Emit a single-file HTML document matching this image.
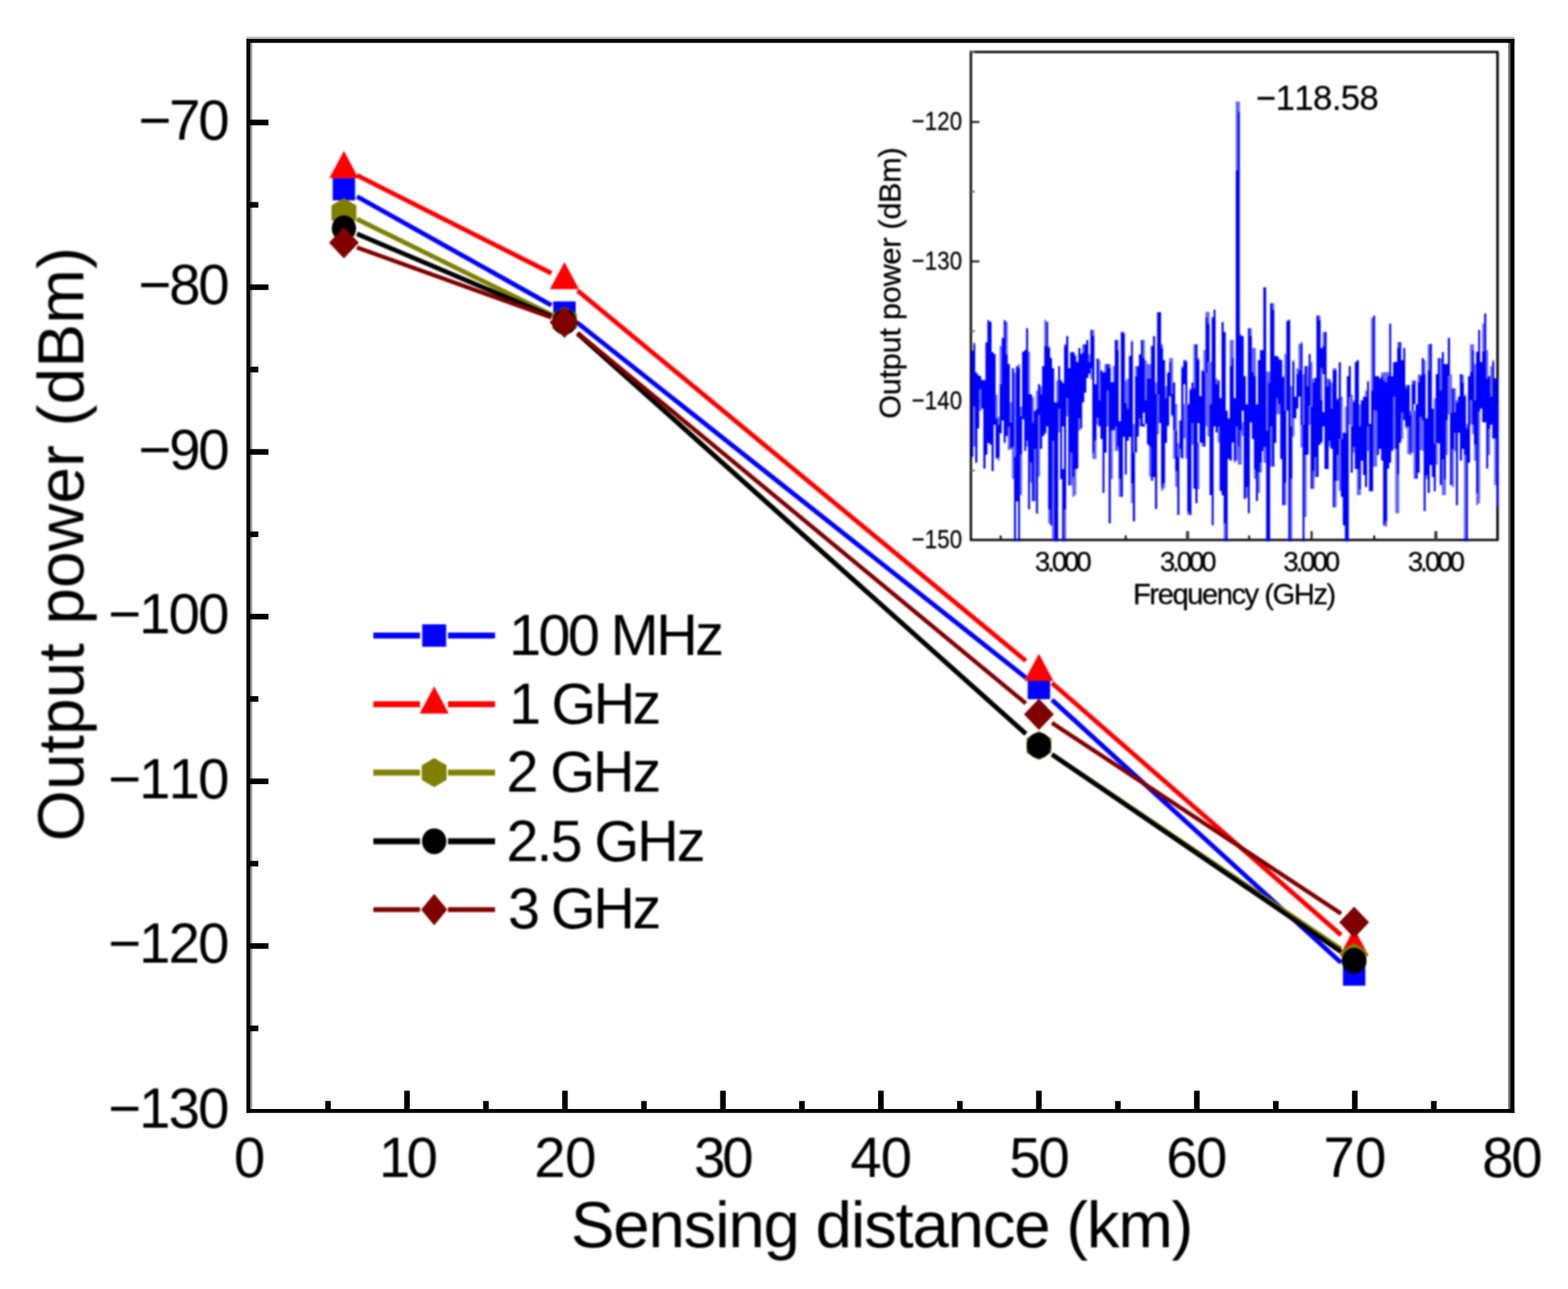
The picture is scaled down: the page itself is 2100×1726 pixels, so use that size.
<!DOCTYPE html>
<html lang="en">
<head>
<meta charset="utf-8">
<title>Output power versus sensing distance</title>
<style>
html,body{margin:0;padding:0;background:#fff;}
body{width:2100px;height:1726px;overflow:hidden;}
svg{display:block;font-family:"Liberation Sans", Arial, Helvetica, sans-serif;}
</style>
</head>
<body>
<svg xmlns="http://www.w3.org/2000/svg" width="2100" height="1726" viewBox="0 0 2100 1726">
<rect x="0" y="0" width="2100" height="1726" fill="#fff"/>
<defs><filter id="soft" filterUnits="userSpaceOnUse" x="0" y="0" width="2100" height="1726" color-interpolation-filters="sRGB"><feGaussianBlur stdDeviation="0.8"/></filter></defs>
<g id="chart" filter="url(#soft)">
<g fill="#000" style="font-kerning:none">
<text x="144.72" y="1509.94" font-size="75.63" letter-spacing="-2.582">−130</text>
<text x="144.72" y="1289.39" font-size="75.63" letter-spacing="-2.582">−120</text>
<text x="144.72" y="1068.84" font-size="75.63" letter-spacing="-2.582">−110</text>
<text x="144.72" y="848.29" font-size="75.63" letter-spacing="-2.582">−100</text>
<text x="185.22" y="627.74" font-size="75.63" letter-spacing="-2.946">−90</text>
<text x="185.22" y="407.19" font-size="75.63" letter-spacing="-2.946">−80</text>
<text x="185.22" y="186.64" font-size="75.63" letter-spacing="-2.946">−70</text>
<text x="313.37" y="1576.24" font-size="75.63" letter-spacing="0.000">0</text>
<text x="507.43" y="1576.24" font-size="75.63" letter-spacing="-4.934">10</text>
<text x="715.42" y="1576.24" font-size="75.63" letter-spacing="-0.825">20</text>
<text x="929.57" y="1576.24" font-size="75.63" letter-spacing="-4.481">30</text>
<text x="1138.81" y="1576.24" font-size="75.63" letter-spacing="-1.315">40</text>
<text x="1351.67" y="1576.24" font-size="75.63" letter-spacing="-2.881">50</text>
<text x="1561.92" y="1576.24" font-size="75.63" letter-spacing="-2.125">60</text>
<text x="1772.52" y="1576.24" font-size="75.63" letter-spacing="0.275">70</text>
<text x="1984.90" y="1576.24" font-size="75.63" letter-spacing="-2.903">80</text>
<text x="764.55" y="1670.36" font-size="87.81" letter-spacing="-1.740">Sensing distance (km)</text>
<text transform="translate(111.54,1126.56) rotate(-90)" font-size="87.91" letter-spacing="0.259">Output power (dBm)</text>
</g>
<line x1="478.10" y1="263.09" x2="738.50" y2="408.81" stroke="#0000ff" stroke-width="6.2"/>
<line x1="773.50" y1="432.44" x2="1373.90" y2="907.36" stroke="#0000ff" stroke-width="6.2"/>
<line x1="1408.90" y1="937.10" x2="1796.10" y2="1289.00" stroke="#0000ff" stroke-width="6.2"/>
<rect x="445.60" y="238.30" width="30.0" height="30.0" fill="#0000ff"/>
<rect x="741.00" y="403.60" width="30.0" height="30.0" fill="#0000ff"/>
<rect x="1376.40" y="906.20" width="30.0" height="30.0" fill="#0000ff"/>
<rect x="1798.60" y="1289.90" width="30.0" height="30.0" fill="#0000ff"/>
<line x1="478.10" y1="234.81" x2="738.50" y2="365.89" stroke="#ff0000" stroke-width="6.2"/>
<line x1="773.50" y1="389.15" x2="1373.90" y2="884.85" stroke="#ff0000" stroke-width="6.2"/>
<line x1="1408.90" y1="914.55" x2="1796.10" y2="1252.05" stroke="#ff0000" stroke-width="6.2"/>
<polygon points="460.60,202.00 480.10,238.50 441.10,238.50" fill="#ff0000"/>
<polygon points="756.00,350.70 775.50,387.20 736.50,387.20" fill="#ff0000"/>
<polygon points="1391.40,875.30 1410.90,911.80 1371.90,911.80" fill="#ff0000"/>
<polygon points="1813.60,1243.30 1833.10,1279.80 1794.10,1279.80" fill="#ff0000"/>
<line x1="478.10" y1="293.40" x2="738.50" y2="421.40" stroke="#808000" stroke-width="6.2"/>
<line x1="773.50" y1="445.65" x2="1373.90" y2="982.65" stroke="#808000" stroke-width="6.2"/>
<line x1="1408.90" y1="1010.08" x2="1796.10" y2="1270.82" stroke="#808000" stroke-width="6.2"/>
<polygon points="460.60,265.30 477.20,275.05 477.20,294.55 460.60,304.30 444.00,294.55 444.00,275.05" fill="#808000"/>
<polygon points="756.00,410.50 772.60,420.25 772.60,439.75 756.00,449.50 739.40,439.75 739.40,420.25" fill="#808000"/>
<polygon points="1391.40,978.80 1408.00,988.55 1408.00,1008.05 1391.40,1017.80 1374.80,1008.05 1374.80,988.55" fill="#808000"/>
<polygon points="1813.60,1263.10 1830.20,1272.85 1830.20,1292.35 1813.60,1302.10 1797.00,1292.35 1797.00,1272.85" fill="#808000"/>
<line x1="478.10" y1="313.22" x2="738.50" y2="423.58" stroke="#000000" stroke-width="6.2"/>
<line x1="773.50" y1="446.62" x2="1373.90" y2="982.68" stroke="#000000" stroke-width="6.2"/>
<line x1="1408.90" y1="1010.24" x2="1796.10" y2="1274.46" stroke="#000000" stroke-width="6.2"/>
<ellipse cx="460.60" cy="305.80" rx="16.3" ry="17.3" fill="#000000"/>
<ellipse cx="756.00" cy="431.00" rx="16.3" ry="17.3" fill="#000000"/>
<ellipse cx="1391.40" cy="998.30" rx="16.3" ry="17.3" fill="#000000"/>
<ellipse cx="1813.60" cy="1286.40" rx="16.3" ry="17.3" fill="#000000"/>
<line x1="478.10" y1="331.30" x2="738.50" y2="425.10" stroke="#800000" stroke-width="5.6"/>
<line x1="773.50" y1="445.86" x2="1373.90" y2="941.94" stroke="#800000" stroke-width="5.6"/>
<line x1="1408.90" y1="967.94" x2="1796.10" y2="1223.36" stroke="#800000" stroke-width="5.6"/>
<polygon points="460.60,304.00 480.60,325.00 460.60,346.00 440.60,325.00" fill="#800000"/>
<polygon points="756.00,410.40 776.00,431.40 756.00,452.40 736.00,431.40" fill="#800000"/>
<polygon points="1391.40,935.40 1411.40,956.40 1391.40,977.40 1371.40,956.40" fill="#800000"/>
<polygon points="1813.60,1213.90 1833.60,1234.90 1813.60,1255.90 1793.60,1234.90" fill="#800000"/>
<line x1="500" y1="851" x2="663" y2="851" stroke="#0000ff" stroke-width="7.8"/>
<rect x="562.5" y="846" width="37.5" height="10" fill="#fff"/>
<rect x="565.50" y="836.00" width="32.0" height="30.0" fill="#0000ff"/>
<line x1="500" y1="943" x2="663" y2="943" stroke="#ff0000" stroke-width="7.8"/>
<rect x="562.5" y="938" width="37.5" height="10" fill="#fff"/>
<polygon points="581.50,919.00 601.00,955.50 562.00,955.50" fill="#ff0000"/>
<line x1="500" y1="1034.5" x2="663" y2="1034.5" stroke="#808000" stroke-width="7.8"/>
<rect x="562.5" y="1029.5" width="37.5" height="10" fill="#fff"/>
<polygon points="581.50,1015.00 598.10,1024.75 598.10,1044.25 581.50,1054.00 564.90,1044.25 564.90,1024.75" fill="#808000"/>
<line x1="500" y1="1126.5" x2="663" y2="1126.5" stroke="#000000" stroke-width="7.8"/>
<rect x="562.5" y="1121.5" width="37.5" height="10" fill="#fff"/>
<ellipse cx="581.50" cy="1126.50" rx="16.3" ry="17.3" fill="#000000"/>
<line x1="500" y1="1218" x2="663" y2="1218" stroke="#800000" stroke-width="6.6"/>
<rect x="562.5" y="1213" width="37.5" height="10" fill="#fff"/>
<polygon points="581.50,1197.00 599.00,1218.00 581.50,1239.00 564.00,1218.00" fill="#800000"/>
<g fill="#000" style="font-kerning:none">
<text x="681.70" y="877.00" font-size="77.30" letter-spacing="-3.573">100 MHz</text>
<text x="681.70" y="968.70" font-size="77.30" letter-spacing="-3.796">1 GHz</text>
<text x="678.34" y="1060.30" font-size="77.30" letter-spacing="-2.954">2 GHz</text>
<text x="678.34" y="1152.80" font-size="77.30" letter-spacing="-2.827">2.5 GHz</text>
<text x="680.31" y="1243.00" font-size="77.30" letter-spacing="-3.447">3 GHz</text>
</g>
<rect x="1300.3" y="69.6" width="705.2" height="653.4" fill="none" stroke="#000" stroke-width="3"/>
<rect x="2007.0" y="69.6" width="2" height="653.4" fill="#d8d8d8"/>
<line x1="1300.3" y1="630.05" x2="1305.6" y2="630.05" stroke="#666" stroke-width="2.2"/>
<line x1="1300.3" y1="536.70" x2="1311.8" y2="536.70" stroke="#1a1a1a" stroke-width="2.6"/>
<line x1="1300.3" y1="443.35" x2="1305.6" y2="443.35" stroke="#666" stroke-width="2.2"/>
<line x1="1300.3" y1="350.00" x2="1311.8" y2="350.00" stroke="#1a1a1a" stroke-width="2.6"/>
<line x1="1300.3" y1="256.65" x2="1305.6" y2="256.65" stroke="#666" stroke-width="2.2"/>
<line x1="1300.3" y1="163.30" x2="1311.8" y2="163.30" stroke="#1a1a1a" stroke-width="2.6"/>
<line x1="1300.3" y1="69.95" x2="1305.6" y2="69.95" stroke="#666" stroke-width="2.2"/>
<line x1="1340.2" y1="717.0" x2="1340.2" y2="723.0" stroke="#111" stroke-width="2.6"/>
<line x1="1423.8" y1="711.2" x2="1423.8" y2="723.0" stroke="#000" stroke-width="1.6"/>
<line x1="1507.7" y1="717.0" x2="1507.7" y2="723.0" stroke="#111" stroke-width="2.6"/>
<line x1="1590.5" y1="711.2" x2="1590.5" y2="723.0" stroke="#3c3c3c" stroke-width="4.2"/>
<line x1="1673.0" y1="717.0" x2="1673.0" y2="723.0" stroke="#111" stroke-width="2.6"/>
<line x1="1756.6" y1="711.2" x2="1756.6" y2="723.0" stroke="#111" stroke-width="2.6"/>
<line x1="1840.5" y1="717.0" x2="1840.5" y2="723.0" stroke="#111" stroke-width="2.6"/>
<line x1="1923.0" y1="711.2" x2="1923.0" y2="723.0" stroke="#3c3c3c" stroke-width="4.2"/>
<path d="M1303.5 458.5H1306.1V460.4H1303.5zM1303.5 544.4H1306.1V598.1H1303.5zM1311.4 521.1H1314.2V550.0H1311.4zM1333.4 528.5H1336.1V560.3H1333.4zM1336.1 558.4H1338.8V568.7H1336.1zM1336.1 612.1H1338.8V616.7H1336.1zM1338.8 463.2H1341.6V514.5H1338.8zM1346.9 431.0H1349.7V474.4H1346.9zM1349.7 571.0H1352.5V602.7H1349.7zM1352.5 538.8H1355.3V565.9H1352.5zM1355.3 598.1H1358.1V641.0H1355.3zM1358.1 498.7H1360.7V612.1H1358.1zM1363.5 487.5H1366.1V493.1H1363.5zM1366.1 544.4H1368.9V557.5H1366.1zM1366.1 608.8H1368.9V662.9H1366.1zM1374.3 589.7H1376.9V598.1H1374.3zM1376.9 471.1H1379.5V528.1H1376.9zM1379.5 619.5H1382.1V646.6H1379.5zM1382.1 531.3H1384.9V565.9H1382.1zM1384.9 600.9H1387.5V670.9H1384.9zM1387.5 522.9H1390.2V547.2H1387.5zM1390.2 555.6H1393.0V638.2H1390.2zM1393.0 517.3H1395.7V528.1H1393.0zM1398.5 428.2H1401.3V463.2H1398.5zM1403.8 463.7H1406.4V466.0H1403.8zM1403.8 682.1H1406.4V700.7H1403.8zM1409.0 590.6H1411.8V724.1H1409.0zM1414.6 509.4H1417.2V538.8H1414.6zM1417.2 547.2H1419.8V578.9H1417.2zM1425.1 460.9H1427.9V463.2H1425.1zM1425.1 682.1H1427.9V724.9H1425.1zM1427.9 533.2H1430.7V557.5H1427.9zM1433.3 606.5H1436.1V650.3H1433.3zM1436.1 638.7H1438.9V665.3H1436.1zM1438.9 474.4H1441.4V476.7H1438.9zM1438.9 627.9H1441.4V662.9H1438.9zM1444.2 560.3H1447.0V576.6H1444.2zM1449.3 460.9H1452.1V471.6H1449.3zM1457.7 474.4H1460.4V484.7H1457.7zM1460.4 493.1H1462.9V508.0H1460.4zM1462.9 441.7H1465.7V450.1H1462.9zM1462.9 606.5H1465.7V614.4H1462.9zM1465.7 589.7H1468.5V614.4H1465.7zM1468.5 559.3H1471.3V568.7H1468.5zM1471.3 481.9H1473.8V536.0H1471.3zM1479.2 487.5H1482.0V497.7H1479.2zM1482.0 522.9H1484.8V571.0H1482.0zM1484.8 487.5H1487.6V493.1H1484.8zM1487.6 576.6H1490.4V641.5H1487.6zM1490.4 490.3H1493.0V511.7H1490.4zM1493.0 571.0H1496.0V603.7H1493.0zM1496.0 455.3H1498.3V468.8H1496.0zM1496.0 598.1H1498.3V603.7H1496.0zM1498.3 641.0H1501.1V665.3H1498.3zM1503.9 444.5H1506.5V446.9H1503.9zM1506.5 509.4H1509.1V539.7H1506.5zM1509.1 507.1H1511.9V547.2H1509.1zM1514.7 455.7H1517.3V458.1H1514.7zM1514.7 647.1H1517.3V673.7H1514.7zM1517.3 567.7H1520.1V606.5H1517.3zM1520.1 490.3H1522.7V503.8H1520.1zM1525.3 560.0H1528.0V571.2H1525.3zM1530.7 455.3H1533.3V479.5H1530.7zM1533.3 482.8H1536.1V536.0H1533.3zM1536.1 487.5H1538.9V507.1H1536.1zM1538.9 487.5H1541.5V507.1H1538.9zM1538.9 598.1H1541.5V638.2H1538.9zM1546.9 511.7H1549.7V527.6H1546.9zM1549.7 528.3H1552.3V581.5H1549.7zM1555.0 460.9H1557.6V466.0H1555.0zM1555.0 652.2H1557.6V657.3H1555.0zM1557.6 647.1H1560.4V654.5H1557.6zM1560.4 517.3H1563.0V533.2H1560.4zM1563.0 569.3H1565.8V571.2H1563.0zM1565.8 479.5H1568.4V484.7H1565.8zM1568.4 479.5H1571.1V527.3H1568.4zM1568.4 555.3H1571.1V557.5H1568.4zM1571.1 575.7H1573.9V614.4H1571.1zM1573.9 540.7H1576.7V576.6H1573.9zM1573.9 630.7H1576.7V652.2H1573.9zM1576.7 593.4H1579.5V612.1H1576.7zM1579.5 600.9H1582.1V612.1H1579.5zM1582.1 490.3H1584.9V493.1H1582.1zM1584.9 541.3H1587.5V587.1H1584.9zM1587.5 482.3H1590.1V484.7H1587.5zM1587.5 541.3H1590.1V613.9H1587.5zM1590.1 684.9H1592.9V689.5H1590.1zM1592.9 520.1H1595.7V522.9H1592.9zM1595.7 566.5H1598.3V595.3H1595.7zM1598.3 460.9H1601.0V520.1H1598.3zM1603.8 479.5H1606.4V482.3H1603.8zM1603.8 592.5H1606.4V655.0H1603.8zM1609.1 592.9H1611.7V598.1H1609.1zM1611.7 468.8H1614.5V498.2H1611.7zM1614.5 417.5H1617.1V424.9H1614.5zM1614.5 498.7H1617.1V571.0H1614.5zM1617.1 417.5H1619.9V433.3H1617.1zM1617.1 484.7H1619.9V584.5H1617.1zM1619.9 484.7H1622.8V541.3H1619.9zM1622.8 424.0H1625.4V425.4H1622.8zM1625.4 414.2H1628.0V414.7H1625.4zM1628.0 507.1H1630.8V514.5H1628.0zM1630.8 571.0H1633.4V592.5H1630.8zM1636.0 431.0H1638.8V431.5H1636.0zM1638.8 700.7H1641.6V724.9H1638.8zM1647.0 455.3H1649.8V490.3H1647.0zM1649.8 455.3H1652.4V479.5H1649.8zM1652.4 616.7H1655.0V619.5H1652.4zM1655.0 136.0H1657.8V228.0H1655.0zM1655.0 571.0H1657.8V616.7H1655.0zM1657.8 136.0H1660.5V149.5H1657.8zM1657.8 598.1H1660.5V622.3H1657.8zM1660.5 447.3H1663.1V450.1H1660.5zM1660.5 576.6H1663.1V622.3H1660.5zM1663.1 565.6H1665.7V583.6H1663.1zM1668.5 652.2H1671.3V666.2H1668.5zM1673.9 439.4H1676.6V450.1H1673.9zM1676.6 466.0H1679.4V498.2H1676.6zM1679.4 466.0H1682.0V503.8H1679.4zM1679.4 627.9H1682.0V641.0H1679.4zM1684.7 632.6H1687.5V660.1H1684.7zM1687.5 619.5H1690.1V632.6H1687.5zM1692.0 598.1H1695.7V619.5H1692.0zM1695.7 497.7H1698.3V576.6H1695.7zM1698.3 497.7H1701.1V512.2H1698.3zM1701.1 571.0H1703.9V624.7H1701.1zM1703.9 406.0H1706.7V414.7H1703.9zM1709.4 532.9H1712.0V554.4H1709.4zM1712.0 479.5H1714.6V481.9H1712.0zM1712.0 541.3H1714.6V554.4H1712.0zM1717.2 503.8H1720.0V506.1H1717.2zM1720.0 473.9H1722.8V550.0H1720.0zM1720.0 646.6H1722.8V676.5H1720.0zM1722.8 428.7H1725.4V431.0H1722.8zM1728.0 517.3H1730.8V571.0H1728.0zM1728.0 641.0H1730.8V724.9H1728.0zM1730.8 482.3H1733.6V484.7H1730.8zM1730.8 560.0H1733.6V584.5H1730.8zM1736.2 493.1H1738.9V501.0H1736.2zM1738.9 460.4H1741.7V495.4H1738.9zM1741.7 458.1H1744.5V460.4H1741.7zM1741.7 569.3H1744.5V599.0H1741.7zM1744.5 501.0H1747.1V568.7H1744.5zM1747.1 609.3H1749.9V692.3H1747.1zM1749.9 490.3H1752.7V517.3H1749.9zM1752.7 543.2H1755.3V568.7H1752.7zM1755.3 484.7H1757.9V544.4H1755.3zM1757.9 507.1H1760.6V512.2H1757.9zM1757.9 630.7H1760.6V654.5H1757.9zM1760.6 612.1H1763.1V638.7H1760.6zM1765.9 422.6H1768.7V428.7H1765.9zM1768.7 493.1H1771.3V536.0H1768.7zM1771.3 444.5H1773.9V463.2H1771.3zM1776.7 507.1H1779.4V517.3H1776.7zM1779.4 507.1H1782.1V509.4H1779.4zM1779.4 590.1H1782.1V598.1H1779.4zM1782.1 512.2H1784.9V547.2H1782.1zM1784.9 493.1H1787.5V495.9H1784.9zM1787.5 493.1H1790.2V495.9H1787.5zM1787.5 643.8H1790.2V679.3H1787.5zM1790.2 533.2H1793.0V536.0H1790.2zM1790.2 609.3H1793.0V643.8H1790.2zM1793.0 587.8H1795.8V657.3H1793.0zM1795.8 531.3H1798.4V587.8H1795.8zM1801.2 544.4H1803.8V579.4H1801.2zM1806.4 531.3H1809.1V568.4H1806.4zM1809.1 528.5H1811.8V571.0H1809.1zM1811.8 536.0H1814.5V538.8H1811.8zM1811.8 598.1H1814.5V606.5H1811.8zM1817.1 627.9H1819.9V662.9H1817.1zM1819.9 541.6H1822.7V571.0H1819.9zM1819.9 655.0H1822.7V662.9H1819.9zM1828.1 522.9H1830.9V531.3H1828.1zM1830.9 509.4H1833.5V511.7H1830.9zM1830.9 571.0H1833.5V603.7H1830.9zM1836.2 425.4H1839.0V522.9H1836.2zM1839.0 549.7H1841.6V625.1H1839.0zM1841.6 549.7H1844.3V625.1H1841.6zM1849.7 498.7H1852.4V503.3H1849.7zM1852.4 498.2H1855.2V509.4H1852.4zM1855.2 498.2H1857.8V511.7H1855.2zM1855.2 697.9H1857.8V705.4H1855.2zM1857.8 498.2H1860.6V503.8H1857.8zM1865.8 530.9H1868.6V600.9H1865.8zM1868.6 600.9H1871.2V687.2H1868.6zM1871.2 458.1H1874.0V466.0H1871.2zM1871.2 635.4H1874.0V687.2H1871.2zM1876.6 552.5H1879.4V587.8H1876.6zM1882.0 515.5H1884.7V520.1H1882.0zM1882.0 571.0H1884.7V573.8H1882.0zM1884.7 571.0H1888.0V608.3H1884.7zM1888.0 550.0H1890.6V555.6H1888.0zM1888.0 606.0H1890.6V609.3H1888.0zM1890.6 509.4H1893.2V514.5H1890.6zM1890.6 549.7H1893.2V606.0H1890.6zM1893.2 549.7H1895.9V641.0H1893.2zM1898.7 501.5H1901.3V511.7H1898.7zM1901.3 501.5H1904.1V503.8H1901.3zM1901.3 558.1H1904.1V602.7H1901.3zM1904.1 562.8H1906.7V603.7H1904.1zM1906.7 481.9H1909.3V501.0H1906.7zM1909.3 636.3H1912.1V641.5H1909.3zM1912.1 460.9H1914.9V495.9H1912.1zM1920.3 533.2H1922.9V593.4H1920.3zM1922.9 593.4H1925.6V622.3H1922.9zM1928.3 479.5H1931.1V522.9H1928.3zM1931.1 614.9H1933.7V662.9H1931.1zM1933.7 641.9H1936.5V662.9H1933.7zM1936.5 562.8H1939.1V609.3H1936.5zM1939.1 503.3H1941.9V554.4H1939.1zM1941.9 501.5H1944.6V552.8H1941.9zM1944.6 600.9H1947.3V652.2H1944.6zM1947.3 520.1H1949.9V552.3H1947.3zM1947.3 579.4H1949.9V603.7H1947.3zM1949.9 536.0H1952.6V538.8H1949.9zM1958.0 501.5H1960.6V512.2H1958.0zM1960.6 528.5H1963.4V530.9H1960.6zM1960.6 609.3H1963.4V724.9H1960.6zM1963.4 567.7H1966.0V573.8H1963.4zM1968.8 460.9H1971.5V497.7H1968.8zM1968.8 535.7H1971.5V568.4H1968.8zM1971.5 460.9H1974.1V468.8H1971.5zM1971.5 568.4H1974.1V581.3H1971.5zM1974.1 487.5H1976.9V536.0H1974.1zM1974.1 595.3H1976.9V616.7H1974.1zM1976.9 660.6H1979.7V676.5H1976.9zM1979.7 551.6H1982.3V673.7H1979.7zM1985.1 433.3H1987.7V471.1H1985.1zM1990.5 468.8H1993.1V506.6H1990.5zM1993.1 574.0H1995.8V609.3H1993.1zM1995.8 490.3H1998.6V530.9H1995.8zM1998.6 481.9H2001.2V484.7H1998.6zM2001.2 587.3H2004.0V649.4H2001.2zM2004.0 507.1H2007.0V539.7H2004.0z" fill="#0000ff" fill-opacity="0.6"/>
<path d="M1300.9 469.7H1303.5V611.6H1300.9zM1303.5 460.4H1306.1V544.4H1303.5zM1306.1 498.7H1308.9V619.5H1306.1zM1308.9 501.9H1311.4V573.8H1308.9zM1311.4 503.8H1314.2V521.1H1311.4zM1314.2 508.9H1317.0V547.2H1314.2zM1317.0 508.9H1319.8V627.5H1317.0zM1319.8 458.5H1322.4V608.8H1319.8zM1322.4 428.7H1325.2V592.9H1322.4zM1325.2 431.0H1328.0V595.3H1325.2zM1328.0 471.6H1330.8V630.7H1328.0zM1330.8 473.9H1333.4V568.7H1330.8zM1333.4 560.3H1336.1V613.9H1333.4zM1336.1 568.7H1338.8V612.1H1336.1zM1338.8 514.5H1341.6V580.3H1338.8zM1341.6 452.5H1344.3V563.1H1341.6zM1344.3 428.7H1346.9V592.9H1344.3zM1346.9 474.4H1349.7V584.1H1346.9zM1349.7 487.5H1352.5V571.0H1349.7zM1352.5 565.9H1355.3V600.9H1352.5zM1355.3 493.1H1358.1V598.1H1355.3zM1358.1 612.1H1360.7V724.9H1358.1zM1360.7 490.3H1363.5V671.3H1360.7zM1363.5 493.1H1366.1V724.9H1363.5zM1366.1 557.5H1368.9V608.8H1366.1zM1368.9 471.1H1371.7V561.2H1368.9zM1371.7 468.8H1374.3V603.7H1371.7zM1374.3 439.4H1376.9V589.7H1374.3zM1376.9 528.1H1379.5V682.1H1376.9zM1379.5 528.1H1382.1V619.5H1379.5zM1382.1 565.9H1384.9V670.9H1382.1zM1384.9 550.0H1387.5V600.9H1384.9zM1387.5 547.2H1390.2V687.7H1387.5zM1390.2 514.5H1393.0V555.6H1390.2zM1393.0 528.1H1395.7V600.9H1393.0zM1395.7 490.3H1398.5V584.1H1395.7zM1398.5 463.2H1401.3V580.3H1398.5zM1401.3 431.0H1403.8V571.0H1401.3zM1403.8 466.0H1406.4V682.1H1403.8zM1406.4 479.5H1409.0V703.5H1406.4zM1409.0 493.1H1411.8V590.6H1409.0zM1411.8 538.8H1414.6V724.9H1411.8zM1414.6 538.8H1417.2V724.9H1414.6zM1417.2 490.3H1419.8V547.2H1417.2zM1419.8 509.4H1422.5V641.5H1419.8zM1422.5 512.7H1425.1V571.0H1422.5zM1422.5 627.9H1425.1V724.9H1422.5zM1425.1 463.2H1427.9V682.1H1425.1zM1427.9 450.1H1430.7V533.2H1427.9zM1430.7 493.1H1433.3V649.9H1430.7zM1433.3 471.6H1436.1V606.5H1433.3zM1436.1 471.6H1438.9V638.7H1436.1zM1438.9 476.7H1441.4V627.9H1438.9zM1441.4 484.7H1444.2V627.5H1441.4zM1444.2 466.0H1447.0V560.3H1444.2zM1447.0 473.9H1449.3V573.8H1447.0zM1449.3 471.6H1452.1V538.8H1449.3zM1452.1 460.9H1454.9V525.7H1452.1zM1454.9 455.3H1457.7V506.1H1454.9zM1457.7 484.7H1460.4V500.5H1457.7zM1460.4 441.7H1462.9V493.1H1460.4zM1462.9 450.1H1465.7V606.5H1462.9zM1465.7 514.5H1468.5V589.7H1465.7zM1468.5 480.0H1471.3V559.3H1468.5zM1471.3 536.0H1473.8V571.0H1471.3zM1473.8 495.9H1476.6V587.8H1473.8zM1476.6 498.7H1479.2V660.1H1476.6zM1479.2 497.7H1482.0V606.0H1479.2zM1482.0 487.5H1484.8V522.9H1482.0zM1484.8 493.1H1487.6V700.7H1484.8zM1487.6 511.7H1490.4V576.6H1487.6zM1490.4 511.7H1493.0V576.1H1490.4zM1493.0 455.3H1496.0V571.0H1493.0zM1496.0 468.8H1498.3V598.1H1496.0zM1498.3 564.0H1501.1V641.0H1498.3zM1501.1 444.5H1503.9V665.3H1501.1zM1503.9 446.9H1506.5V585.0H1503.9zM1506.5 539.7H1509.1V635.4H1506.5zM1509.1 547.2H1511.9V590.1H1509.1zM1511.9 476.7H1514.7V585.0H1511.9zM1514.7 458.1H1517.3V647.1H1514.7zM1517.3 606.5H1520.1V697.9H1517.3zM1520.1 503.8H1522.7V606.0H1520.1zM1522.7 490.3H1525.3V584.5H1522.7zM1525.3 474.4H1528.0V560.0H1525.3zM1528.0 455.3H1530.7V570.7H1528.0zM1530.7 479.5H1533.3V552.5H1530.7zM1530.7 567.5H1533.3V571.5H1530.7zM1533.3 536.0H1536.1V567.5H1533.3zM1536.1 507.1H1538.9V595.3H1536.1zM1538.9 507.1H1541.5V598.1H1538.9zM1541.5 463.2H1544.2V643.8H1541.5zM1544.2 450.1H1546.9V638.7H1544.2zM1546.9 527.6H1549.7V681.6H1546.9zM1549.7 417.9H1552.3V528.3H1549.7zM1552.3 417.9H1555.0V566.5H1552.3zM1555.0 466.0H1557.6V652.2H1555.0zM1557.6 482.3H1560.4V647.1H1557.6zM1560.4 533.2H1563.0V592.9H1560.4zM1563.0 498.7H1565.8V569.3H1563.0zM1565.8 484.7H1568.4V530.4H1565.8zM1568.4 527.3H1571.1V555.3H1568.4zM1571.1 512.2H1573.9V575.7H1571.1zM1573.9 576.6H1576.7V630.7H1573.9zM1576.7 612.1H1579.5V689.5H1576.7zM1579.5 563.1H1582.1V600.9H1579.5zM1582.1 493.1H1584.9V613.9H1582.1zM1584.9 482.3H1587.5V514.5H1584.9zM1587.5 484.7H1590.1V541.3H1587.5zM1590.1 541.3H1592.9V684.9H1590.1zM1592.9 522.9H1595.7V689.5H1592.9zM1595.7 512.2H1598.3V566.5H1595.7zM1598.3 520.1H1601.0V654.5H1598.3zM1601.0 460.9H1603.8V673.7H1601.0zM1603.8 482.3H1606.4V566.5H1603.8zM1606.4 530.4H1609.1V592.5H1606.4zM1609.1 495.9H1611.7V592.9H1609.1zM1611.7 498.2H1614.5V598.1H1611.7zM1614.5 424.9H1617.1V498.7H1614.5zM1617.1 433.3H1619.9V484.7H1617.1zM1619.9 541.3H1622.8V662.9H1619.9zM1622.8 425.4H1625.4V703.5H1622.8zM1625.4 414.7H1628.0V571.0H1625.4zM1628.0 514.5H1630.8V578.9H1628.0zM1630.8 509.4H1633.4V571.0H1630.8zM1633.4 533.2H1636.0V657.3H1633.4zM1636.0 431.5H1638.8V662.9H1636.0zM1638.8 444.5H1641.6V700.7H1638.8zM1641.6 550.0H1644.2V724.9H1641.6zM1644.2 560.3H1647.0V614.4H1644.2zM1647.0 490.3H1649.8V616.7H1647.0zM1649.8 479.5H1652.4V592.5H1649.8zM1652.4 533.2H1655.0V616.7H1652.4zM1655.0 228.0H1657.8V571.0H1655.0zM1657.8 149.5H1660.5V598.1H1657.8zM1660.5 450.1H1663.1V576.6H1660.5zM1663.1 450.1H1665.7V549.7H1663.1zM1665.7 503.8H1668.5V668.1H1665.7zM1668.5 541.6H1671.3V652.2H1668.5zM1671.3 439.4H1673.9V687.2H1671.3zM1673.9 450.1H1676.6V565.6H1673.9zM1676.6 498.2H1679.4V587.8H1676.6zM1679.4 503.8H1682.0V627.9H1679.4zM1682.0 541.6H1684.7V670.9H1682.0zM1684.7 482.3H1687.5V632.6H1684.7zM1687.5 468.8H1690.1V619.5H1687.5zM1690.1 468.8H1692.0V603.7H1690.1zM1692.0 384.8H1695.7V598.1H1692.0zM1695.7 576.6H1698.3V724.9H1695.7zM1698.3 512.2H1701.1V724.9H1698.3zM1701.1 406.0H1703.9V571.0H1701.1zM1703.9 414.7H1706.7V624.7H1703.9zM1706.7 476.7H1709.4V592.9H1706.7zM1709.4 476.7H1712.0V532.9H1709.4zM1712.0 481.9H1714.6V541.3H1712.0zM1714.6 481.9H1717.2V614.4H1714.6zM1717.2 506.1H1720.0V676.5H1717.2zM1720.0 550.0H1722.8V646.6H1720.0zM1722.8 431.0H1725.4V549.7H1722.8zM1725.4 428.2H1728.0V724.9H1725.4zM1728.0 571.0H1730.8V641.0H1728.0zM1730.8 484.7H1733.6V560.0H1730.8zM1733.6 531.3H1736.2V560.0H1733.6zM1736.2 501.0H1738.9V546.9H1736.2zM1738.9 495.4H1741.7V531.1H1738.9zM1741.7 460.4H1744.5V569.3H1741.7zM1744.5 568.7H1747.1V724.9H1744.5zM1747.1 490.3H1749.9V609.3H1747.1zM1749.9 517.3H1752.7V608.8H1749.9zM1752.7 473.9H1755.3V543.2H1752.7zM1755.3 544.4H1757.9V654.5H1755.3zM1757.9 512.2H1760.6V630.7H1757.9zM1760.6 506.1H1763.1V612.1H1760.6zM1763.1 422.6H1765.9V638.7H1763.1zM1765.9 428.7H1768.7V595.7H1765.9zM1768.7 466.0H1771.3V493.1H1768.7zM1768.7 536.0H1771.3V592.5H1768.7zM1771.3 463.2H1773.9V501.0H1771.3zM1771.3 551.9H1773.9V571.0H1771.3zM1773.9 444.5H1776.7V627.9H1773.9zM1776.7 517.3H1779.4V627.9H1776.7zM1779.4 509.4H1782.1V590.1H1779.4zM1782.1 547.2H1784.9V600.9H1782.1zM1784.9 495.9H1787.5V679.3H1784.9zM1787.5 495.9H1790.2V643.8H1787.5zM1790.2 536.0H1793.0V609.3H1790.2zM1793.0 485.1H1795.8V587.8H1793.0zM1795.8 587.8H1798.4V665.3H1795.8zM1798.4 579.4H1801.2V703.5H1798.4zM1801.2 579.4H1803.8V724.9H1801.2zM1803.8 503.8H1806.4V724.9H1803.8zM1806.4 490.3H1809.1V531.3H1806.4zM1809.1 571.0H1811.8V633.1H1809.1zM1811.8 538.8H1814.5V598.1H1811.8zM1814.5 484.7H1817.1V627.9H1814.5zM1817.1 482.3H1819.9V627.9H1817.1zM1819.9 571.0H1822.7V655.0H1819.9zM1822.7 536.0H1825.5V616.7H1822.7zM1825.5 531.3H1828.1V635.9H1825.5zM1828.1 531.3H1830.9V652.2H1828.1zM1830.9 511.7H1833.5V571.0H1830.9zM1833.5 567.7H1836.2V657.8H1833.5zM1836.2 522.9H1839.0V657.8H1836.2zM1839.0 422.6H1841.6V549.7H1839.0zM1841.6 503.8H1844.3V549.7H1841.6zM1844.3 503.8H1846.9V609.3H1844.3zM1846.9 506.6H1849.7V600.9H1846.9zM1849.7 503.3H1852.4V616.7H1849.7zM1852.4 509.4H1855.2V703.5H1852.4zM1855.2 511.7H1857.8V697.9H1855.2zM1857.8 503.8H1860.6V627.5H1857.8zM1860.6 433.3H1863.2V619.5H1860.6zM1863.2 503.8H1865.8V603.7H1863.2zM1865.8 484.7H1868.6V530.9H1865.8zM1868.6 484.7H1871.2V600.9H1868.6zM1871.2 466.0H1874.0V635.4H1871.2zM1874.0 458.1H1876.6V592.9H1874.0zM1876.6 482.3H1879.4V552.5H1876.6zM1879.4 466.0H1882.0V562.8H1879.4zM1882.0 520.1H1884.7V571.0H1882.0zM1884.7 515.5H1888.0V571.0H1884.7zM1888.0 555.6H1890.6V606.0H1888.0zM1890.6 514.5H1893.2V549.7H1890.6zM1893.2 509.4H1895.9V541.3H1893.2zM1895.9 541.6H1898.7V641.0H1895.9zM1898.7 511.7H1901.3V633.1H1898.7zM1901.3 503.8H1904.1V558.1H1901.3zM1904.1 479.5H1906.7V562.8H1904.1zM1906.7 501.0H1909.3V684.4H1906.7zM1909.3 560.3H1912.1V636.3H1909.3zM1912.1 495.9H1914.9V660.1H1912.1zM1914.9 460.4H1917.7V622.8H1914.9zM1917.7 547.2H1920.3V638.7H1917.7zM1920.3 593.4H1922.9V657.8H1920.3zM1922.9 501.0H1925.6V593.4H1922.9zM1925.6 479.5H1928.3V593.4H1925.6zM1928.3 522.9H1931.1V649.4H1928.3zM1931.1 471.6H1933.7V614.9H1931.1zM1933.7 487.5H1936.5V641.9H1933.7zM1936.5 487.5H1939.1V562.8H1936.5zM1939.1 452.5H1941.9V503.3H1939.1zM1941.9 552.8H1944.6V649.4H1941.9zM1944.6 520.1H1947.3V600.9H1944.6zM1947.3 552.3H1949.9V579.4H1947.3zM1949.9 538.8H1952.6V676.5H1949.9zM1952.6 530.9H1955.2V579.4H1952.6zM1955.2 501.0H1958.0V616.7H1955.2zM1958.0 512.2H1960.6V600.9H1958.0zM1960.6 530.9H1963.4V609.3H1960.6zM1963.4 573.8H1966.0V724.9H1963.4zM1966.0 503.8H1968.8V619.5H1966.0zM1968.8 497.7H1971.5V535.7H1968.8zM1971.5 468.8H1974.1V568.4H1971.5zM1974.1 536.0H1976.9V595.3H1974.1zM1976.9 471.1H1979.7V660.6H1976.9zM1979.7 441.7H1982.3V551.6H1979.7zM1982.3 484.7H1985.1V546.9H1982.3zM1985.1 471.1H1987.7V565.6H1985.1zM1987.7 419.8H1990.5V565.6H1987.7zM1990.5 506.6H1993.1V627.5H1990.5zM1993.1 503.8H1995.8V574.0H1993.1zM1995.8 530.9H1998.6V568.4H1995.8zM1998.6 484.7H2001.2V587.3H1998.6zM2001.2 506.6H2004.0V587.3H2001.2zM2004.0 539.7H2007.0V679.3H2004.0z" fill="#0000ff"/>
<g fill="#000" style="font-kerning:none">
<text transform="translate(1220.82,174.15) scale(0.85,1)" font-size="34.93" letter-spacing="0.283" stroke="#000" stroke-width="0.35">−120</text>
<text transform="translate(1220.82,360.85) scale(0.85,1)" font-size="34.93" letter-spacing="0.283" stroke="#000" stroke-width="0.35">−130</text>
<text transform="translate(1220.82,547.55) scale(0.85,1)" font-size="34.93" letter-spacing="0.283" stroke="#000" stroke-width="0.35">−140</text>
<text transform="translate(1220.82,734.25) scale(0.85,1)" font-size="34.93" letter-spacing="0.283" stroke="#000" stroke-width="0.35">−150</text>
<text x="1386.12" y="765.33" font-size="36.90" letter-spacing="-4.096" stroke="#000" stroke-width="0.35">3.000</text>
<text x="1553.42" y="765.33" font-size="36.90" letter-spacing="-4.096" stroke="#000" stroke-width="0.35">3.000</text>
<text x="1718.72" y="765.33" font-size="36.90" letter-spacing="-4.096" stroke="#000" stroke-width="0.35">3.000</text>
<text x="1885.52" y="765.33" font-size="36.90" letter-spacing="-3.946" stroke="#000" stroke-width="0.35">3.000</text>
<text x="1517.47" y="808.58" font-size="39.14" letter-spacing="-1.997" stroke="#000" stroke-width="0.35">Frequency (GHz)</text>
<text transform="translate(1205.90,560.74) rotate(-90)" font-size="40.96" letter-spacing="-0.304" stroke="#000" stroke-width="0.35">Output power (dBm)</text>
<text x="1682.08" y="146.54" font-size="46.34" letter-spacing="-0.700" stroke="#000" stroke-width="0.3">−118.58</text>
</g>
</g>
<g id="frame">
<g shape-rendering="crispEdges">
<rect x="330.0" y="49.300000000000004" width="1698.3" height="2.8" fill="#bdbdbd"/>
<rect x="335.2" y="57.4" width="2.8" height="1427.6" fill="#a6a6a6"/>
<rect x="2020.0" y="57.4" width="2.9" height="1427.6" fill="#6e6e6e"/>
</g>
<rect x="330.0" y="52.1" width="5.199999999999989" height="1438.1000000000001" fill="#000"/>
<rect x="2022.9" y="52.1" width="5.399999999999864" height="1438.1000000000001" fill="#000"/>
<rect x="330.0" y="52.1" width="1698.3" height="5.299999999999997" fill="#000"/>
<rect x="330.0" y="1485.0" width="1698.3" height="5.2000000000000455" fill="#000"/>
<rect x="334.2" y="1373.28" width="11.80" height="7.5" fill="#000"/>
<rect x="334.2" y="1263.00" width="25.30" height="7.5" fill="#000"/>
<rect x="334.2" y="1152.72" width="11.80" height="7.5" fill="#000"/>
<rect x="334.2" y="1042.45" width="25.30" height="7.5" fill="#000"/>
<rect x="334.2" y="932.17" width="11.80" height="7.5" fill="#000"/>
<rect x="334.2" y="821.90" width="25.30" height="7.5" fill="#000"/>
<rect x="334.2" y="711.62" width="11.80" height="7.5" fill="#000"/>
<rect x="334.2" y="601.35" width="25.30" height="7.5" fill="#000"/>
<rect x="334.2" y="491.07" width="11.80" height="7.5" fill="#000"/>
<rect x="334.2" y="380.80" width="25.30" height="7.5" fill="#000"/>
<rect x="334.2" y="270.52" width="11.80" height="7.5" fill="#000"/>
<rect x="334.2" y="160.25" width="25.30" height="7.5" fill="#000"/>
<rect x="435.53" y="1474.3" width="7.5" height="11.70" fill="#000"/>
<rect x="541.32" y="1460.5" width="7.5" height="25.50" fill="#000"/>
<rect x="647.11" y="1474.3" width="7.5" height="11.70" fill="#000"/>
<rect x="752.89" y="1460.5" width="7.5" height="25.50" fill="#000"/>
<rect x="858.67" y="1474.3" width="7.5" height="11.70" fill="#000"/>
<rect x="964.46" y="1460.5" width="7.5" height="25.50" fill="#000"/>
<rect x="1070.24" y="1474.3" width="7.5" height="11.70" fill="#000"/>
<rect x="1176.03" y="1460.5" width="7.5" height="25.50" fill="#000"/>
<rect x="1281.82" y="1474.3" width="7.5" height="11.70" fill="#000"/>
<rect x="1387.60" y="1460.5" width="7.5" height="25.50" fill="#000"/>
<rect x="1493.38" y="1474.3" width="7.5" height="11.70" fill="#000"/>
<rect x="1599.17" y="1460.5" width="7.5" height="25.50" fill="#000"/>
<rect x="1704.95" y="1474.3" width="7.5" height="11.70" fill="#000"/>
<rect x="1810.74" y="1460.5" width="7.5" height="25.50" fill="#000"/>
<rect x="1916.53" y="1474.3" width="7.5" height="11.70" fill="#000"/>
</g>
</svg>
</body>
</html>
